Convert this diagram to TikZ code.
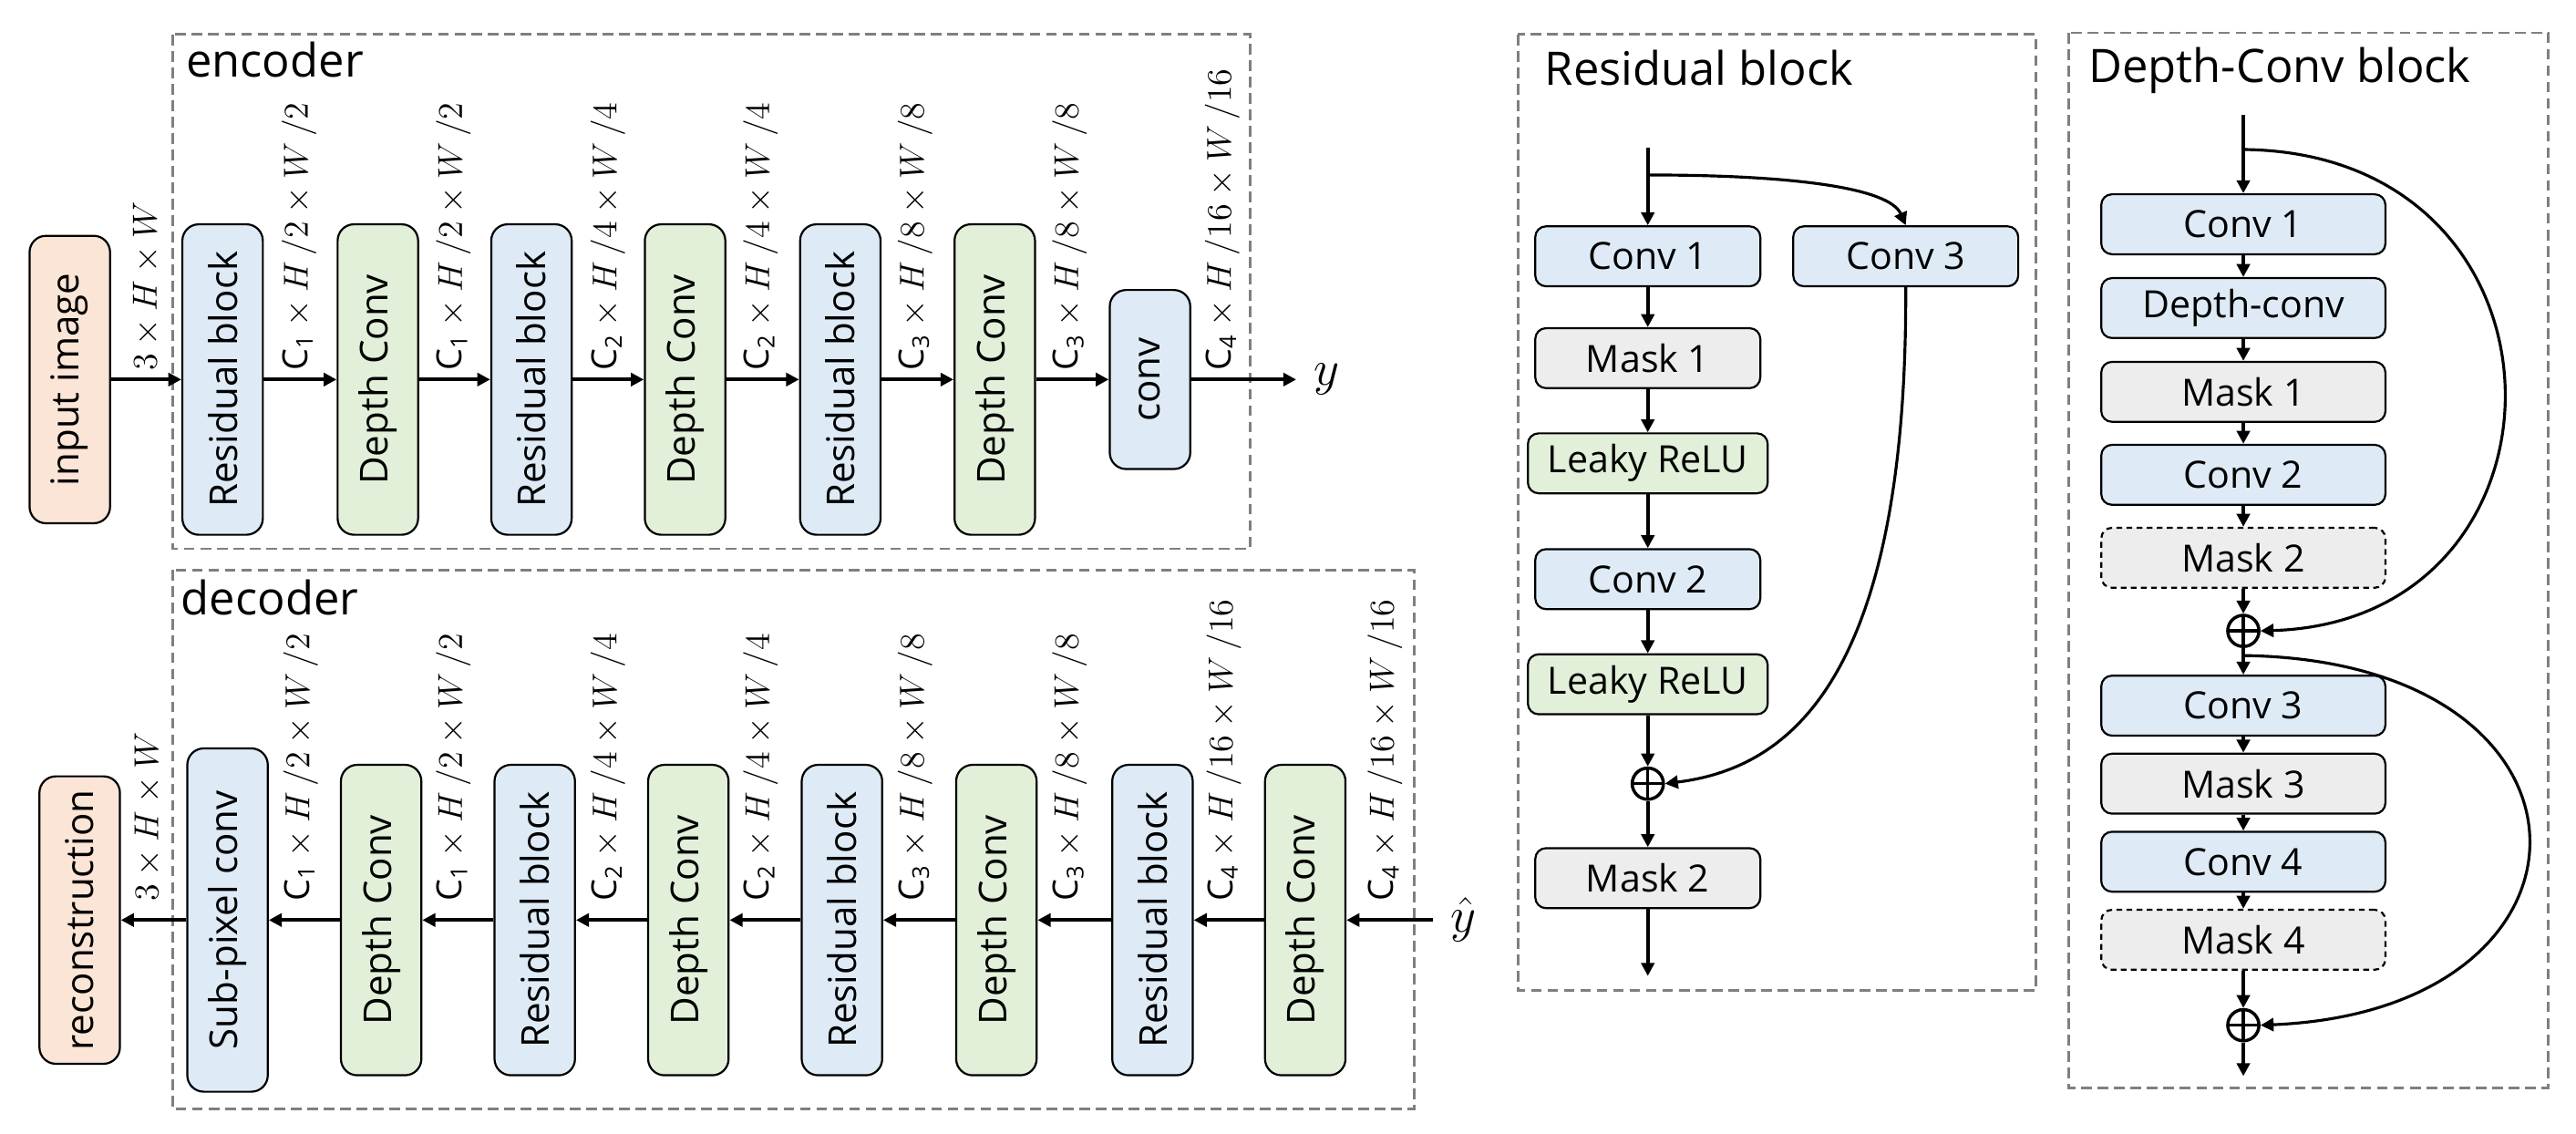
\documentclass[tikz,border=0pt]{standalone}
\usepackage{amsmath}
\usepackage{graphicx}
\usepackage[no-math]{fontspec}
\setmainfont{Open Sans}
\usepackage{tikz}
\usetikzlibrary{arrows.meta, positioning, calc}
\usepackage{xcolor}
\definecolor{boxblue}{HTML}{DEEBF7}
\definecolor{boxgreen}{HTML}{E2F0D9}
\definecolor{boxpeach}{HTML}{FBE5D6}
\definecolor{boxgray}{HTML}{EDEDED}
\definecolor{framegray}{HTML}{7F7F7F}
\newcommand{\vtext}[1]{\rotatebox{90}{#1}}
\newcommand{\chan}[1]{\text{C}_{\text{#1}}}

\begin{document}
\begin{tikzpicture}[x=0.02cm, y=-0.02cm,
  colblock/.style={draw, line width=0.7pt, rounded corners=0.2cm, inner sep=0pt,
    minimum width=0.98cm, font=\fontsize{13.3}{16}\selectfont},
  resblock/.style={colblock, fill=boxblue, minimum height=3.78cm},
  depblock/.style={colblock, fill=boxgreen, minimum height=3.78cm},
  ioblock/.style={colblock, fill=boxpeach, minimum height=3.5cm},
  stage/.style={draw, line width=0.7pt, rounded corners=0.13cm, inner sep=0pt,
    minimum height=0.73cm, font=\fontsize{13}{15}\selectfont},
  convstage/.style={stage, fill=boxblue},
  maskstage/.style={stage, fill=boxgray},
  relustage/.style={stage, fill=boxgreen},
  optmask/.style={maskstage, dash pattern=on 2pt off 1.5pt},
  dimlbl/.style={rotate=90, anchor=west, inner sep=0pt, font=\fontsize{12}{14}\selectfont},
  dashframe/.style={draw=framegray, line width=0.9pt, dash pattern=on 0.13cm off 0.07cm},
  paneltitle/.style={anchor=base west, inner sep=0pt, font=\fontsize{16}{19}\selectfont},
  flow/.style={line width=1.25pt, -{Triangle[length=4.5pt, width=4.5pt]}},
  skipline/.style={line width=1pt, -{Triangle[length=4.5pt, width=4.5pt]}},
  sumnode/.style={circle, draw, line width=1.1pt, minimum size=0.38cm, inner sep=0pt,
    path picture={\draw[line width=1.1pt] (path picture bounding box.north) -- (path picture bounding box.south)
      (path picture bounding box.west) -- (path picture bounding box.east);}}
]
  \useasboundingbox (0,0) rectangle (1568,690);

  % encoder
  \draw[dashframe] (105,21) rectangle (761,334);
  \node[paneltitle] (enctitle) at (113,47) {encoder};
  \node[ioblock] (img) at (42.5,231) {\vtext{input image}};
  \node[resblock] (e1) at (135.5,231) {\vtext{Residual block}};
  \node[depblock] (e2) at (230,231) {\vtext{Depth Conv}};
  \node[resblock] (e3) at (323.5,231) {\vtext{Residual block}};
  \node[depblock] (e4) at (417,231) {\vtext{Depth Conv}};
  \node[resblock] (e5) at (511.5,231) {\vtext{Residual block}};
  \node[depblock] (e6) at (605.5,231) {\vtext{Depth Conv}};
  \node[resblock, minimum height=2.18cm] (e7) at (700,231) {\vtext{conv}};
  \coordinate (yout) at (789,231);
  \node[right=6pt of yout, inner sep=0pt, font=\fontsize{17}{20}\selectfont] (ylbl) {$y$};
  \foreach \a/\b in {img/e1, e1/e2, e2/e3, e3/e4, e4/e5, e5/e6, e6/e7}
    \draw[flow] (\a) -- (\b);
  \draw[flow] (e7) -- (yout);
  \foreach \x/\t [count=\i] in {89/{3\times H\times W}, 182/{\chan{1}\times H\,/2\times W\,/2},
      276/{\chan{1}\times H\,/2\times W\,/2}, 370/{\chan{2}\times H\,/4\times W\,/4},
      463/{\chan{2}\times H\,/4\times W\,/4}, 557/{\chan{3}\times H\,/8\times W\,/8},
      651/{\chan{3}\times H\,/8\times W\,/8}, 744/{\chan{4}\times H\,/16\times W\,/16}}
    \node[dimlbl] (elab\i) at (\x,226) {$\t$};

  % decoder
  \draw[dashframe] (105,347) rectangle (861,675);
  \node[paneltitle] (dectitle) at (110,374) {decoder};
  \node[ioblock] (rec) at (48.5,560) {\vtext{reconstruction}};
  \node[resblock, minimum height=4.18cm] (d1) at (138.5,560) {\vtext{Sub-pixel conv}};
  \node[depblock] (d2) at (232,560) {\vtext{Depth Conv}};
  \node[resblock] (d3) at (325.5,560) {\vtext{Residual block}};
  \node[depblock] (d4) at (419,560) {\vtext{Depth Conv}};
  \node[resblock] (d5) at (512.5,560) {\vtext{Residual block}};
  \node[depblock] (d6) at (606.5,560) {\vtext{Depth Conv}};
  \node[resblock] (d7) at (701.5,560) {\vtext{Residual block}};
  \node[depblock] (d8) at (794.5,560) {\vtext{Depth Conv}};
  \coordinate (yhatin) at (872,560);
  \node[right=6pt of yhatin, inner sep=0pt, font=\fontsize{17}{20}\selectfont] (yhatlbl) {$\hat{y}$};
  \foreach \a/\b in {d1/rec, d2/d1, d3/d2, d4/d3, d5/d4, d6/d5, d7/d6, d8/d7}
    \draw[flow] (\a) -- (\b);
  \draw[flow] (yhatin) -- (d8);
  \foreach \x/\t [count=\i] in {90/{3\times H\times W}, 183/{\chan{1}\times H\,/2\times W\,/2},
      276/{\chan{1}\times H\,/2\times W\,/2}, 370/{\chan{2}\times H\,/4\times W\,/4},
      463/{\chan{2}\times H\,/4\times W\,/4}, 557/{\chan{3}\times H\,/8\times W\,/8},
      651/{\chan{3}\times H\,/8\times W\,/8}, 745/{\chan{4}\times H\,/16\times W\,/16},
      843/{\chan{4}\times H\,/16\times W\,/16}}
    \node[dimlbl] (dlab\i) at (\x,549) {$\t$};

  % Residual block
  \draw[dashframe] (924,21) rectangle (1239,603);
  \node[paneltitle] (restitle) at (940,52) {Residual block};
  \node[convstage, minimum width=2.74cm] (rc1) at (1003,156) {Conv 1};
  \node[convstage, minimum width=2.74cm] (rc3) at (1160,156) {Conv 3};
  \node[maskstage, minimum width=2.74cm] (rm1) at (1003,218) {Mask 1};
  \node[relustage, minimum width=2.92cm] (rl1) at (1003,282) {Leaky ReLU};
  \node[convstage, minimum width=2.74cm] (rc2) at (1003,352.5) {Conv 2};
  \node[relustage, minimum width=2.92cm] (rl2) at (1003,416.5) {Leaky ReLU};
  \node[sumnode] (rsum) at (1003,477) {};
  \node[maskstage, minimum width=2.74cm] (rm2) at (1003,534.5) {Mask 2};
  \coordinate (rin) at (1003,90);
  \coordinate (rbr) at (1003,106.5);
  \coordinate (rout) at (1003,594);
  \foreach \a/\b in {rin/rc1, rc1/rm1, rm1/rl1, rl1/rc2, rc2/rl2, rl2/rsum, rsum/rm2, rm2/rout}
    \draw[flow] (\a) -- (\b);
  \draw[skipline] (rbr) .. controls (1090,106.5) and (1150,114) .. (rc3.north);
  \draw[skipline] (rc3.south) .. controls (1161,420) and (1085,468) .. (rsum.east);

  % Depth-Conv block
  \draw[dashframe] (1259,20) rectangle (1551,662);
  \node[paneltitle] (deptitle) at (1271,50) {Depth-Conv block};
  \node[convstage, minimum width=3.46cm] (dc1) at (1365.5,136.5) {Conv 1};
  \node[convstage, minimum width=3.46cm] (ddw) at (1365.5,187.5) {Depth-conv};
  \node[maskstage, minimum width=3.46cm] (dm1) at (1365.5,238.5) {Mask 1};
  \node[convstage, minimum width=3.46cm] (dc2) at (1365.5,289) {Conv 2};
  \node[optmask, minimum width=3.46cm] (dm2) at (1365.5,339.5) {Mask 2};
  \node[sumnode] (dsuma) at (1365.5,384) {};
  \node[convstage, minimum width=3.46cm] (dc3) at (1365.5,429.5) {Conv 3};
  \node[maskstage, minimum width=3.46cm] (dm3) at (1365.5,477) {Mask 3};
  \node[convstage, minimum width=3.46cm] (dc4) at (1365.5,524.5) {Conv 4};
  \node[optmask, minimum width=3.46cm] (dm4) at (1365.5,572) {Mask 4};
  \node[sumnode] (dsumb) at (1365.5,624) {};
  \coordinate (din) at (1365.5,70);
  \coordinate (dbra) at (1365.5,91);
  \coordinate (dbrb) at (1365.5,399);
  \coordinate (dout) at (1365.5,655);
  \foreach \a/\b in {din/dc1, dc1/ddw, ddw/dm1, dm1/dc2, dc2/dm2, dm2/dsuma, dsuma/dc3,
      dc3/dm3, dm3/dc4, dc4/dm4, dm4/dsumb, dsumb/dout}
    \draw[flow] (\a) -- (\b);
  \draw[skipline] (dbra) .. controls (1575,93) and (1575,378) .. (dsuma.east);
  \draw[skipline] (dbrb) .. controls (1595,402) and (1595,615) .. (dsumb.east);
\end{tikzpicture}
\end{document}
